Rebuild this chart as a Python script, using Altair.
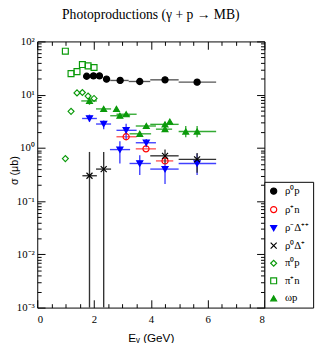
import json
import altair as alt
import pandas as pd

# ---------------- data ----------------
series = ["ρ⁰p", "ρ⁺n", "ρ⁻Δ⁺⁺", "ρ⁰Δ⁺", "π⁰p", "π⁺n", "ωp"]

# rho0 p
rho0p_E = [1.74, 1.98, 2.19, 2.44, 2.92, 3.61, 4.50, 5.63]
rho0p_s = [22.2, 22.5, 22.5, 19.6, 18.5, 17.7, 19.0, 17.2]
rho0p_xlo = [None, None, None, 2.32, 2.57, 3.22, 3.98, 4.98]
rho0p_xhi = [None, None, None, 2.57, 3.22, 3.98, 4.98, 6.30]
rho0p_ylo = [None] * 8
rho0p_yhi = [None] * 8

# rho+ n
rhopn_E = [3.13, 3.83, 4.50]
rhopn_s = [1.62, 0.96, 0.57]
rhopn_xlo = [2.79, 3.47, 4.18]
rhopn_xhi = [3.50, 4.18, 4.79]
rhopn_ylo = [None] * 3
rhopn_yhi = [None] * 3

# rho- Delta++
rhomD_E = [1.84, 2.34, 3.13, 2.91, 3.84, 3.61, 4.50, 5.63]
rhomD_s = [3.57, 2.81, 2.14, 0.93, 1.25, 0.51, 0.40, 0.51]
rhomD_xlo = [1.58, 2.07, 2.79, 2.56, 3.47, 3.25, 3.98, 4.98]
rhomD_xhi = [2.10, 2.60, 3.50, 3.27, 4.18, 4.00, 4.98, 6.30]
rhomD_ylo = [3.10, 2.25, 1.41, 0.51, 1.03, 0.31, 0.21, 0.31]
rhomD_yhi = [4.23, 3.28, 2.85, 1.33, 1.47, 0.73, 0.51, 0.78]

# rho0 Delta+
rho0D_E = [1.84, 2.34, 4.50, 5.63]
rho0D_s = [0.30, 0.40, 0.71, 0.61]
rho0D_xlo = [1.59, 2.07, 3.98, 4.98]
rho0D_xhi = [2.10, 2.60, 4.98, 6.30]
rho0D_ylo = [0.001, 0.001, 0.50, 0.34]
rho0D_yhi = [0.84, 0.84, 0.93, 0.80]

# pi0 p
pi0p_E = [0.99, 1.19, 1.40, 1.59, 1.79, 2.00]
pi0p_s = [0.63, 4.86, 10.8, 11.0, 9.4, 8.5]

# pi+ n
pipn_E = [0.99, 1.19, 1.40, 1.59, 1.79, 2.00]
pipn_s = [65.6, 24.9, 27.1, 36.8, 34.8, 32.4]

# omega p
omp_E = [1.84, 2.34, 2.79, 2.91, 3.13, 3.61, 3.84, 4.50, 4.67, 4.50, 5.23, 5.63]
omp_s = [7.63, 5.40, 5.40, 4.02, 4.29, 1.84, 2.58, 2.77, 3.12, 2.25, 2.03, 2.03]
omp_xlo = [1.55, 2.07, None, 2.57, 2.79, 3.25, 3.47, 3.98, None, 4.18, 4.98, None]
omp_xhi = [2.10, 2.60, None, 3.27, 3.50, 4.01, 4.18, 4.98, None, 4.75, 6.30, None]
omp_ylo = [6.45, None, None, None, None, None, None, None, None, None, 1.58, 1.58]
omp_yhi = [9.20, None, None, None, None, None, None, None, None, None, 2.58, 2.58]

x_major = [0, 2, 4, 6, 8]
x_minor = [0.5, 1, 1.5, 2.5, 3, 3.5, 4.5, 5, 5.5, 6.5, 7, 7.5]
y_major = [0.001, 0.01, 0.1, 1, 10, 100]
y_minor = [m * d for d in [0.001, 0.01, 0.1, 1, 10] for m in range(2, 10)]
y_labels = ["10⁻³", "10⁻²", "10⁻¹", "10⁰", "10¹", "10²"]

# ---------------- table ----------------
rows = []
def add(name, E, s, xlo=None, xhi=None, ylo=None, yhi=None):
    n = len(E)
    xlo = xlo or [None] * n
    xhi = xhi or [None] * n
    ylo = ylo or [None] * n
    yhi = yhi or [None] * n
    for i in range(n):
        rows.append(dict(series=name, E=E[i], sigma=s[i], xlo=xlo[i], xhi=xhi[i],
                         ylo=ylo[i], yhi=yhi[i]))

add(series[0], rho0p_E, rho0p_s, rho0p_xlo, rho0p_xhi, rho0p_ylo, rho0p_yhi)
add(series[1], rhopn_E, rhopn_s, rhopn_xlo, rhopn_xhi, rhopn_ylo, rhopn_yhi)
add(series[2], rhomD_E, rhomD_s, rhomD_xlo, rhomD_xhi, rhomD_ylo, rhomD_yhi)
add(series[3], rho0D_E, rho0D_s, rho0D_xlo, rho0D_xhi, rho0D_ylo, rho0D_yhi)
add(series[4], pi0p_E, pi0p_s)
add(series[5], pipn_E, pipn_s)
add(series[6], omp_E, omp_s, omp_xlo, omp_xhi, omp_ylo, omp_yhi)
df = pd.DataFrame(rows)

GREEN = "#0a9a0a"
shapes = ["circle", "circle", "triangle-down", "M-1,-1L1,1M-1,1L1,-1",
          "diamond", "square", "triangle-up"]
strokes = ["black", "red", "blue", "black", GREEN, GREEN, GREEN]
fills = ["black", "transparent", "blue", "black", "transparent", "transparent", GREEN]
sizes = [40, 36, 38, 4, 28, 28, 38]
bar_colors = ["#555555", "#ff5555", "#4040ff", "#333333", GREEN, GREEN, "#33aa33"]

W, H = 233, 273
xs = alt.Scale(domain=[0, 8], nice=False, zero=False)
ys = alt.Scale(type="log", domain=[0.001, 100], nice=False)

legend = alt.Legend(
    title=None, orient="none", legendX=W, legendY=144,
    strokeColor="black", fillColor="white", padding=4, cornerRadius=0,
    labelFont="Liberation Serif", labelFontSize=11, labelColor="black",
    symbolStrokeWidth=1.2, rowPadding=6, labelOffset=6,
)
shape_enc = alt.Shape("series:N", scale=alt.Scale(domain=series, range=shapes), legend=legend)
stroke_enc = alt.Stroke("series:N", scale=alt.Scale(domain=series, range=strokes), legend=legend)
fill_enc = alt.Fill("series:N", scale=alt.Scale(domain=series, range=fills), legend=legend)
size_enc = alt.Size("series:N", scale=alt.Scale(domain=series, range=sizes), legend=legend)

err_layers = []
for i, name in enumerate(series):
    sub = df[df["series"] == name]
    sh = sub.dropna(subset=["xlo", "xhi"])
    sv = sub.dropna(subset=["ylo", "yhi"])
    if len(sh):
        err_layers.append(alt.Chart(sh).mark_rule(strokeWidth=1.4, color=bar_colors[i]).encode(
            x=alt.X("xlo:Q", scale=xs, axis=None), x2="xhi:Q",
            y=alt.Y("sigma:Q", scale=ys, axis=None)))
    if len(sv):
        err_layers.append(alt.Chart(sv).mark_rule(strokeWidth=1.4, color=bar_colors[i]).encode(
            x=alt.X("E:Q", scale=xs, axis=None),
            y=alt.Y("ylo:Q", scale=ys, axis=None), y2="yhi:Q"))

points = alt.Chart(df).mark_point(strokeWidth=1.2, opacity=1).encode(
    x=alt.X("E:Q", scale=xs, axis=None),
    y=alt.Y("sigma:Q", scale=ys, axis=None),
    shape=shape_enc, stroke=stroke_enc, fill=fill_enc, size=size_enc)

dummy = pd.DataFrame({"E": [4.0], "sigma": [1.0]})
label_expr = json.dumps(y_labels, ensure_ascii=False) + "[round(log(datum.value)/LN10) + 3]"

def tick_axis(orient, offset, values, size):
    return alt.Axis(orient=orient, offset=offset, values=values, tickSize=size,
                    labels=False, domain=False, grid=False, title=None,
                    tickColor="black", tickWidth=1)

def axis_layer(xa, ya):
    return alt.Chart(dummy).mark_point(opacity=0).encode(
        x=alt.X("E:Q", scale=xs, axis=xa),
        y=alt.Y("sigma:Q", scale=ys, axis=ya))

x_lab = alt.Axis(orient="bottom", values=x_major, ticks=False, domain=False, grid=False,
                 labelFont="Liberation Serif", labelFontSize=11, labelColor="black",
                 labelPadding=6, title="Eᵧ  (GeV)", titleFont="Liberation Sans",
                 titleFontSize=12, titleFontWeight="normal", titleColor="black",
                 titlePadding=9)
y_lab = alt.Axis(orient="left", values=y_major, ticks=False, domain=False, grid=False,
                 labelExpr=label_expr, labelFont="Liberation Serif", labelFontSize=11,
                 labelColor="black", labelPadding=3, title="σ (μb)",
                 titleFont="Liberation Sans", titleFontSize=11, titleFontWeight="normal",
                 titleColor="black", titleX=-23, titleY=132, titleBaseline="middle")

layers = err_layers + [
    points,
    axis_layer(x_lab, y_lab),
    axis_layer(tick_axis("top", -H, x_major, 8), tick_axis("right", -W, y_major, 8)),
    axis_layer(tick_axis("top", -H, x_minor, 4), tick_axis("right", -W, y_minor, 4)),
    axis_layer(tick_axis("bottom", -H, x_major, 8), tick_axis("left", -W, y_major, 8)),
    axis_layer(tick_axis("bottom", -H, x_minor, 4), tick_axis("left", -W, y_minor, 4)),
]

chart = alt.layer(*layers).resolve_axis(x="independent", y="independent").properties(
    width=W, height=H,
    autosize=alt.AutoSizeParams(type="none"),
    padding={"left": 30, "top": 30, "right": 56, "bottom": 32},
    title=alt.TitleParams("Photoproductions (γ + p → MB)", font="Liberation Serif",
                          fontSize=14, fontWeight="normal", color="black",
                          anchor="middle", frame="group", offset=14),
).configure_view(stroke="black", strokeWidth=1)

chart.save("out.html", embed_options={"renderer": "svg", "actions": False})
